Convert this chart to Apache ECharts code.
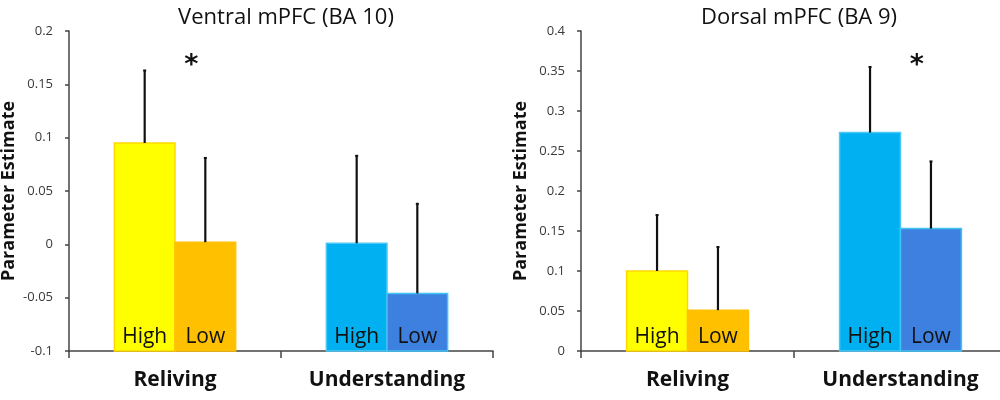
<!DOCTYPE html>
<html>
<head>
<meta charset="utf-8">
<script src="https://cdn.jsdelivr.net/npm/echarts@6/dist/echarts.min.js"></script>
<style>
  html, body { margin: 0; padding: 0; background: #fff; }
  #chart { width: 1000px; height: 400px; }
</style>
</head>
<body>
<div id="chart"></div>
<script>
const categories = ['Reliving', 'Understanding']
const levels = ['High', 'Low']

// Ventral mPFC (BA 10)
const ventralHigh = [0.095, 0.001]
const ventralLow = [0.002, -0.046]
const ventralHighErr = [0.068, 0.082]
const ventralLowErr = [0.079, 0.084]
const ventralTicks = { min: -0.1, max: 0.2, interval: 0.05 }
const ventralStar = [0, 0.172]

// Dorsal mPFC (BA 9)
const dorsalHigh = [0.100, 0.273]
const dorsalLow = [0.051, 0.153]
const dorsalHighErr = [0.070, 0.082]
const dorsalLowErr = [0.079, 0.084]
const dorsalTicks = { min: 0, max: 0.4, interval: 0.05 }
const dorsalStar = [1, 0.363]

const fillColors = [['#FFFF00', '#FFC000'], ['#00B0F0', '#3E80E0']]
const edgeColors = [['#FFD800', '#FFC000'], ['#4CC8F4', '#3FC4F4']]
const font = '"Open Sans", sans-serif'

function buildData(high, low, highErr, lowErr) {
  const rows = []
  categories.forEach((c, i) => {
    rows.push([i, high[i], highErr[i], 0])
    rows.push([i, low[i], lowErr[i], 1])
  })
  return rows
}

function barRenderer(yMin) {
  return function (params, api) {
    const cat = api.value(0)
    const val = api.value(1)
    const err = api.value(2)
    const slot = api.value(3)
    const band = api.size([1, 0])[0]
    const barW = band * 0.286
    const top = api.coord([cat, val])
    const base = api.coord([cat, yMin])
    const errTop = api.coord([cat, val + err])
    const x0 = top[0] - barW + slot * barW
    const cx = x0 + barW / 2
    return {
      type: 'group',
      children: [
        {
          type: 'rect',
          shape: { x: x0, y: top[1], width: barW, height: base[1] - top[1] },
          style: { fill: fillColors[cat][slot], stroke: edgeColors[cat][slot], lineWidth: 1.5 }
        },
        {
          type: 'line',
          shape: { x1: cx, y1: top[1], x2: cx, y2: errTop[1] },
          style: { stroke: '#111', lineWidth: 2.2 }
        },
        {
          type: 'line',
          shape: { x1: cx - 1.5, y1: errTop[1], x2: cx + 1.5, y2: errTop[1] },
          style: { stroke: '#111', lineWidth: 2 }
        },
        {
          type: 'text',
          style: {
            text: levels[slot], x: cx, y: base[1] - 14,
            align: 'center', verticalAlign: 'middle',
            font: '21px ' + font, fill: '#111'
          }
        }
      ]
    }
  }
}

function starRenderer(params, api) {
  const p = api.coord([api.value(0), api.value(1)])
  const band = api.size([1, 0])[0]
  return {
    type: 'text',
    style: {
      text: '*', x: p[0] + band * 0.077, y: p[1] + 5,
      align: 'center', verticalAlign: 'middle',
      font: 'bold 27px "DejaVu Sans", sans-serif', fill: '#111'
    }
  }
}

function yAxis(idx, ticks) {
  return {
    type: 'value', gridIndex: idx,
    min: ticks.min, max: ticks.max, interval: ticks.interval,
    name: 'Parameter Estimate', nameLocation: 'middle', nameGap: 51,
    nameTextStyle: { fontFamily: font, fontWeight: 'bold', fontSize: 18, color: '#111' },
    axisLine: { show: true, lineStyle: { color: '#444', width: 1.5 } },
    axisTick: { show: true, length: 4, lineStyle: { color: '#444', width: 1.5 } },
    axisLabel: {
      margin: 16, fontFamily: font, fontSize: 13, color: '#3a3a3a',
      formatter: v => String(+v.toFixed(2))
    },
    splitLine: { show: false }
  }
}

function xAxis(idx) {
  return {
    type: 'category', gridIndex: idx, data: categories,
    axisLine: { onZero: false, lineStyle: { color: '#444', width: 1.5 } },
    axisTick: { show: true, length: 7, lineStyle: { color: '#444', width: 1.5 } },
    axisLabel: { margin: 19, fontFamily: font, fontWeight: 'bold', fontSize: 21, color: '#111' }
  }
}

const chart = echarts.init(document.getElementById('chart'))
chart.setOption({
  backgroundColor: '#fff',
  animation: false,
  title: [
    { text: 'Ventral mPFC (BA 10)', left: 281, top: 2, textAlign: 'center',
      textStyle: { fontFamily: font, fontWeight: 'normal', fontSize: 22, color: '#111' } },
    { text: 'Dorsal mPFC (BA 9)', left: 794, top: 2, textAlign: 'center',
      textStyle: { fontFamily: font, fontWeight: 'normal', fontSize: 22, color: '#111' } }
  ],
  grid: [
    { left: 69, top: 31, width: 424, height: 320, outerBoundsMode: 'none', containLabel: false },
    { left: 581, top: 31, width: 426, height: 320, outerBoundsMode: 'none', containLabel: false }
  ],
  xAxis: [xAxis(0), xAxis(1)],
  yAxis: [yAxis(0, ventralTicks), yAxis(1, dorsalTicks)],
  series: [
    { type: 'custom', xAxisIndex: 0, yAxisIndex: 0, renderItem: barRenderer(ventralTicks.min),
      data: buildData(ventralHigh, ventralLow, ventralHighErr, ventralLowErr) },
    { type: 'custom', xAxisIndex: 0, yAxisIndex: 0, renderItem: starRenderer, data: [ventralStar] },
    { type: 'custom', xAxisIndex: 1, yAxisIndex: 1, renderItem: barRenderer(dorsalTicks.min),
      data: buildData(dorsalHigh, dorsalLow, dorsalHighErr, dorsalLowErr) },
    { type: 'custom', xAxisIndex: 1, yAxisIndex: 1, renderItem: starRenderer, data: [dorsalStar] }
  ]
})
</script>
</body>
</html>
